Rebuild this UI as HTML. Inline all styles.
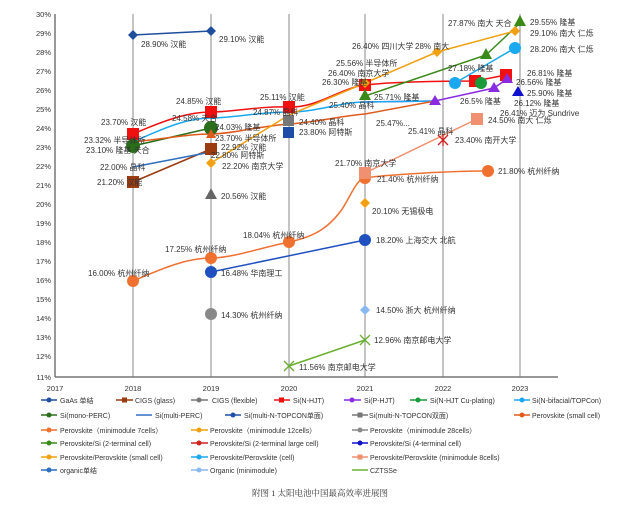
<!DOCTYPE html>
<html><head><meta charset="utf-8"><style>
body{margin:0;background:#fff;width:640px;height:509px;overflow:hidden}
svg text{font-family:"Liberation Sans","Noto Sans CJK SC",sans-serif;fill:#333}
.l{font-size:8px}.t{font-size:7.5px}.g{font-size:7px}
</style></head><body>
<svg width="640" height="509" viewBox="0 0 640 509" xmlns="http://www.w3.org/2000/svg">
<g stroke="#888" stroke-width="1">
<line x1="133" y1="14" x2="133" y2="377"/><line x1="211" y1="14" x2="211" y2="377"/><line x1="289" y1="14" x2="289" y2="377"/><line x1="365" y1="14" x2="365" y2="377"/><line x1="443" y1="14" x2="443" y2="377"/><line x1="520" y1="14" x2="520" y2="377"/>
</g>
<line x1="55" y1="14" x2="55" y2="377" stroke="#777" stroke-width="1.5"/>
<line x1="55" y1="377" x2="558" y2="377" stroke="#777" stroke-width="1.5"/>
<g class="t" text-anchor="end">
<text x="51" y="17">30%</text><text x="51" y="36">29%</text><text x="51" y="55">28%</text><text x="51" y="74">27%</text><text x="51" y="93">26%</text><text x="51" y="112">25%</text><text x="51" y="131">24%</text><text x="51" y="150">23%</text><text x="51" y="169">22%</text><text x="51" y="188">21%</text><text x="51" y="207">20%</text><text x="51" y="226">19%</text><text x="51" y="245">18%</text><text x="51" y="264">17%</text><text x="51" y="283">16%</text><text x="51" y="302">15%</text><text x="51" y="321">14%</text><text x="51" y="340">13%</text><text x="51" y="359">12%</text><text x="51" y="380">11%</text>
</g>
<g class="t" text-anchor="middle">
<text x="55" y="391">2017</text><text x="133" y="391">2018</text><text x="211" y="391">2019</text><text x="289" y="391">2020</text><text x="365" y="391">2021</text><text x="443" y="391">2022</text><text x="520" y="391">2023</text>
</g>
<g fill="none" stroke-width="1.5">
<polyline points="133,35 211,31" stroke="#1f4e9c"/>
<polyline points="133,182 211,149" stroke="#9c3b10"/>
<path d="M133,134 C170,118 190,112 211,112 S260,106 289,107 S340,88 365,85 S440,81 475,81 L506,75" stroke="#f01010"/>
<polyline points="365,102 435,101 494,88 507,79" stroke="#8a2be2"/>
<path d="M133,142 C170,125 190,118 211,118 S260,112 289,112 S340,102 365,102 L435,101" stroke="#1aa8f0"/>
<polyline points="133,146 211,128" stroke="#2a6e1a"/>
<polyline points="133,167 211,152" stroke="#2e6fc0"/>
<path d="M133,142 C170,138 190,134 211,134 S260,126 289,124 S340,116 365,114 L435,101" stroke="#e05a1c"/>
<path d="M133,281 C170,265 190,258 211,258 S260,248 289,242 S330,225 340,212 S355,180 365,178 S440,171 488,171" stroke="#f07030"/>
<polyline points="365,96 486,55 520,23" stroke="#3a8a1a"/>
<polyline points="211,163 289,115 365,83 437,52 515,31" stroke="#f0a010"/>
<polyline points="455,83 515,48" stroke="#1aa8f0"/>
<polyline points="365,173 477,119" stroke="#f09070"/>
<polyline points="211,272 365,240" stroke="#2050c0"/>
<polyline points="289,366 365,340" stroke="#6ab030"/>
</g>
<g>
<path d="M133,30 l5,5 -5,5 -5,-5z M211,26 l5,5 -5,5 -5,-5z" fill="#1f4e9c"/>
<rect x="127" y="176" width="12" height="12" fill="#9c3b10"/><rect x="205" y="143" width="12" height="12" fill="#9c3b10"/>
<path d="M211,188 l6,11 -12,0z" fill="#666"/>
<rect x="127" y="128" width="12" height="12" fill="#f01010"/><rect x="205" y="106" width="12" height="12" fill="#f01010"/><rect x="283" y="101" width="12" height="12" fill="#f01010"/><rect x="359" y="79" width="12" height="12" fill="#f01010"/><rect x="469" y="75" width="12" height="12" fill="#f01010"/><rect x="500" y="69" width="12" height="12" fill="#f01010"/>
<path d="M435,95 l6,10 -12,0z M494,82 l6,10 -12,0z M507,73 l6,10 -12,0z" fill="#8a2be2"/>
<circle cx="481" cy="83" r="6" fill="#1a9a3a"/>
<circle cx="133" cy="146" r="7" fill="#2a6e1a"/><circle cx="211" cy="128" r="7" fill="#2a6e1a"/>
<rect x="283" y="127" width="11" height="11" fill="#1f4ea8"/>
<rect x="283" y="115" width="11" height="11" fill="#777"/>
<path d="M211,129 l5,9 -10,0z" fill="#e05a1c"/>
<circle cx="133" cy="281" r="6" fill="#f07030"/><circle cx="211" cy="258" r="6" fill="#f07030"/><circle cx="289" cy="242" r="6" fill="#f07030"/><circle cx="365" cy="178" r="6" fill="#f07030"/><circle cx="488" cy="171" r="6" fill="#f07030"/>
<path d="M365,198 l5,5 -5,5 -5,-5z" fill="#f0a010"/>
<circle cx="211" cy="314" r="6" fill="#888"/>
<path d="M365,89 l6,11 -12,0z M486,48 l6,11 -12,0z M520,15 l6,11 -12,0z" fill="#3a8a1a"/>
<path d="M438,135 l10,10 M448,135 l-10,10 M443,134 v12" stroke="#d02020" stroke-width="1.3"/>
<path d="M518,86 l6,10 -12,0z" fill="#1010d0"/>
<path d="M211,158 l5,5 -5,5 -5,-5z M365,78 l5,5 -5,5 -5,-5z M437,47 l5,5 -5,5 -5,-5z M515,26 l5,5 -5,5 -5,-5z" fill="#f0a010"/>
<circle cx="455" cy="83" r="6" fill="#1aa8f0"/><circle cx="515" cy="48" r="6" fill="#1aa8f0"/>
<rect x="359" y="167" width="12" height="12" fill="#f09070"/><rect x="471" y="113" width="12" height="12" fill="#f09070"/>
<circle cx="211" cy="272" r="6" fill="#2050c0"/><circle cx="365" cy="240" r="6" fill="#2050c0"/>
<path d="M365,305 l5,5 -5,5 -5,-5z" fill="#8ab8f0"/>
<path d="M284,361 l10,10 M294,361 l-10,10 M360,335 l10,10 M370,335 l-10,10" stroke="#6ab030" stroke-width="1.3"/>
</g>
<g class="l">
<text x="141" y="47">28.90% 汉能</text><text x="219" y="42">29.10% 汉能</text>
<text x="101" y="125">23.70% 汉能</text><text x="84" y="143">23.32% 半导体所</text><text x="86" y="153">23.10% 隆基 天合</text>
<text x="100" y="170">22.00% 晶科</text><text x="97" y="185">21.20% 汉能</text>
<text x="176" y="104">24.85% 汉能</text><text x="172" y="121">24.58% 天合</text><text x="215" y="130">24.03% 隆基</text><text x="215" y="141">23.70% 半导体所</text><text x="221" y="150">22.92% 汉能</text><text x="211" y="158">22.80% 阿特斯</text><text x="222" y="169">22.20% 南京大学</text><text x="221" y="199">20.56% 汉能</text>
<text x="260" y="100">25.11% 汉能</text><text x="253" y="115">24.87% 晶科</text><text x="299" y="125">24.40% 晶科</text><text x="299" y="135">23.80% 阿特斯</text>
<text x="243" y="238">18.04% 杭州纤纳</text><text x="165" y="252">17.25% 杭州纤纳</text><text x="88" y="276">16.00% 杭州纤纳</text><text x="221" y="276">16.48% 华南理工</text><text x="221" y="318">14.30% 杭州纤纳</text>
<text x="352" y="49">26.40% 四川大学</text><text x="415" y="49">28% 南大</text><text x="336" y="66">25.56% 半导体所</text><text x="328" y="76">26.40% 南京大学</text><text x="322" y="85">26.30% 隆基</text><text x="329" y="108">25.40% 晶科</text><text x="374" y="100">25.71% 隆基</text><text x="376" y="126">25.47%...</text><text x="408" y="134">25.41% 晶科</text>
<text x="448" y="26">27.87% 南大 天合</text><text x="448" y="71">27.18% 隆基</text><text x="460" y="104">26.5% 隆基</text><text x="500" y="116">26.41% 迈为 Sundrive</text>
<text x="530" y="25">29.55% 隆基</text><text x="530" y="36">29.10% 南大 仁烁</text><text x="530" y="52">28.20% 南大 仁烁</text><text x="527" y="76">26.81% 隆基</text><text x="516" y="85">26.56% 隆基</text><text x="527" y="96">25.90% 隆基</text><text x="514" y="106">26.12% 隆基</text><text x="488" y="123">24.50% 南大 仁烁</text><text x="455" y="143">23.40% 南开大学</text>
<text x="335" y="166">21.70% 南京大学</text><text x="377" y="182">21.40% 杭州纤纳</text><text x="498" y="174">21.80% 杭州纤纳</text><text x="372" y="214">20.10% 无锡极电</text><text x="376" y="243">18.20% 上海交大 北航</text><text x="376" y="313">14.50% 浙大 杭州纤纳</text><text x="374" y="343">12.96% 南京邮电大学</text><text x="299" y="370">11.56% 南京邮电大学</text>
</g>
<g class="g">
<g stroke-width="1.5">
<line x1="41" y1="400" x2="57" y2="400" stroke="#1f4e9c"/><line x1="116" y1="400" x2="133" y2="400" stroke="#9c3b10"/><line x1="191" y1="400" x2="208" y2="400" stroke="#777"/><line x1="274" y1="400" x2="290" y2="400" stroke="#f01010"/><line x1="344" y1="400" x2="361" y2="400" stroke="#8a2be2"/><line x1="410" y1="400" x2="427" y2="400" stroke="#1a9a3a"/><line x1="514" y1="400" x2="530" y2="400" stroke="#1aa8f0"/>
<line x1="41" y1="415" x2="57" y2="415" stroke="#2a6e1a"/><line x1="136" y1="415" x2="152" y2="415" stroke="#2e6fc0"/><line x1="225" y1="415" x2="241" y2="415" stroke="#1f4ea8"/><line x1="352" y1="415" x2="368" y2="415" stroke="#777"/><line x1="514" y1="415" x2="530" y2="415" stroke="#e05a1c"/>
<line x1="41" y1="430" x2="57" y2="430" stroke="#f07030"/><line x1="191" y1="430" x2="208" y2="430" stroke="#f0a010"/><line x1="352" y1="430" x2="368" y2="430" stroke="#888"/>
<line x1="41" y1="443" x2="57" y2="443" stroke="#3a8a1a"/><line x1="191" y1="443" x2="208" y2="443" stroke="#d02020"/><line x1="352" y1="443" x2="368" y2="443" stroke="#1010d0"/>
<line x1="41" y1="457" x2="57" y2="457" stroke="#f0a010"/><line x1="191" y1="457" x2="208" y2="457" stroke="#1aa8f0"/><line x1="352" y1="457" x2="368" y2="457" stroke="#f09070"/>
<line x1="41" y1="470" x2="57" y2="470" stroke="#2e6fc0"/><line x1="191" y1="470" x2="208" y2="470" stroke="#8ab8f0"/><line x1="352" y1="470" x2="368" y2="470" stroke="#6ab030"/>
</g>
<g>
<circle cx="49" cy="400" r="2.5" fill="#1f4e9c"/><rect x="122" y="397.5" width="5" height="5" fill="#9c3b10"/><circle cx="199" cy="400" r="2.5" fill="#777"/><rect x="279" y="397.5" width="5" height="5" fill="#f01010"/><circle cx="352" cy="400" r="2.5" fill="#8a2be2"/><circle cx="418" cy="400" r="2.5" fill="#1a9a3a"/><circle cx="522" cy="400" r="2.5" fill="#1aa8f0"/>
<circle cx="49" cy="415" r="2.5" fill="#2a6e1a"/><circle cx="233" cy="415" r="2.5" fill="#1f4ea8"/><rect x="357.5" y="412.5" width="5" height="5" fill="#777"/><circle cx="522" cy="415" r="2.5" fill="#e05a1c"/>
<circle cx="49" cy="430" r="2.5" fill="#f07030"/><circle cx="199" cy="430" r="2.5" fill="#f0a010"/><circle cx="360" cy="430" r="2.5" fill="#888"/>
<circle cx="49" cy="443" r="2.5" fill="#3a8a1a"/><circle cx="199" cy="443" r="2.5" fill="#d02020"/><circle cx="360" cy="443" r="2.5" fill="#1010d0"/>
<circle cx="49" cy="457" r="2.5" fill="#f0a010"/><circle cx="199" cy="457" r="2.5" fill="#1aa8f0"/><rect x="357.5" y="454.5" width="5" height="5" fill="#f09070"/>
<circle cx="49" cy="470" r="2.5" fill="#2e6fc0"/><circle cx="199" cy="470" r="2.5" fill="#8ab8f0"/>
</g>
<text x="60" y="403">GaAs 单结</text><text x="135" y="403">CIGS (glass)</text><text x="212" y="403">CIGS (flexible)</text><text x="293" y="403">Si(N-HJT)</text><text x="364" y="403">Si(P-HJT)</text><text x="430" y="403">Si(N-HJT Cu-plating)</text><text x="532" y="403">Si(N-bifacial/TOPCon)</text>
<text x="60" y="418">Si(mono-PERC)</text><text x="155" y="418">Si(multi-PERC)</text><text x="244" y="418">Si(multi-N-TOPCON单面)</text><text x="369" y="418">Si(multi-N-TOPCON双面)</text><text x="532" y="418">Perovskite (small cell)</text>
<text x="60" y="433">Perovskite（minimodule 7cells）</text><text x="210" y="433">Perovskite（minimodule 12cells）</text><text x="370" y="433">Perovskite（minimodule 28cells）</text>
<text x="60" y="446">Perovskite/Si (2-terminal cell)</text><text x="210" y="446">Perovskite/Si (2-terminal large cell)</text><text x="370" y="446">Perovskite/Si (4-terminal cell)</text>
<text x="60" y="460">Perovskite/Perovskite (small cell)</text><text x="210" y="460">Perovskite/Perovskite (cell)</text><text x="370" y="460">Perovskite/Perovskite (minimodule 8cells)</text>
<text x="60" y="473">organic单结</text><text x="210" y="473">Organic (minimodule)</text><text x="370" y="473">CZTSSe</text>
</g>
<text x="320" y="496" text-anchor="middle" style="font-size:8.5px;font-family:'Liberation Serif','Noto Serif CJK SC',serif">附图 1  太阳电池中国最高效率进展图</text>
</svg>
</body></html>
